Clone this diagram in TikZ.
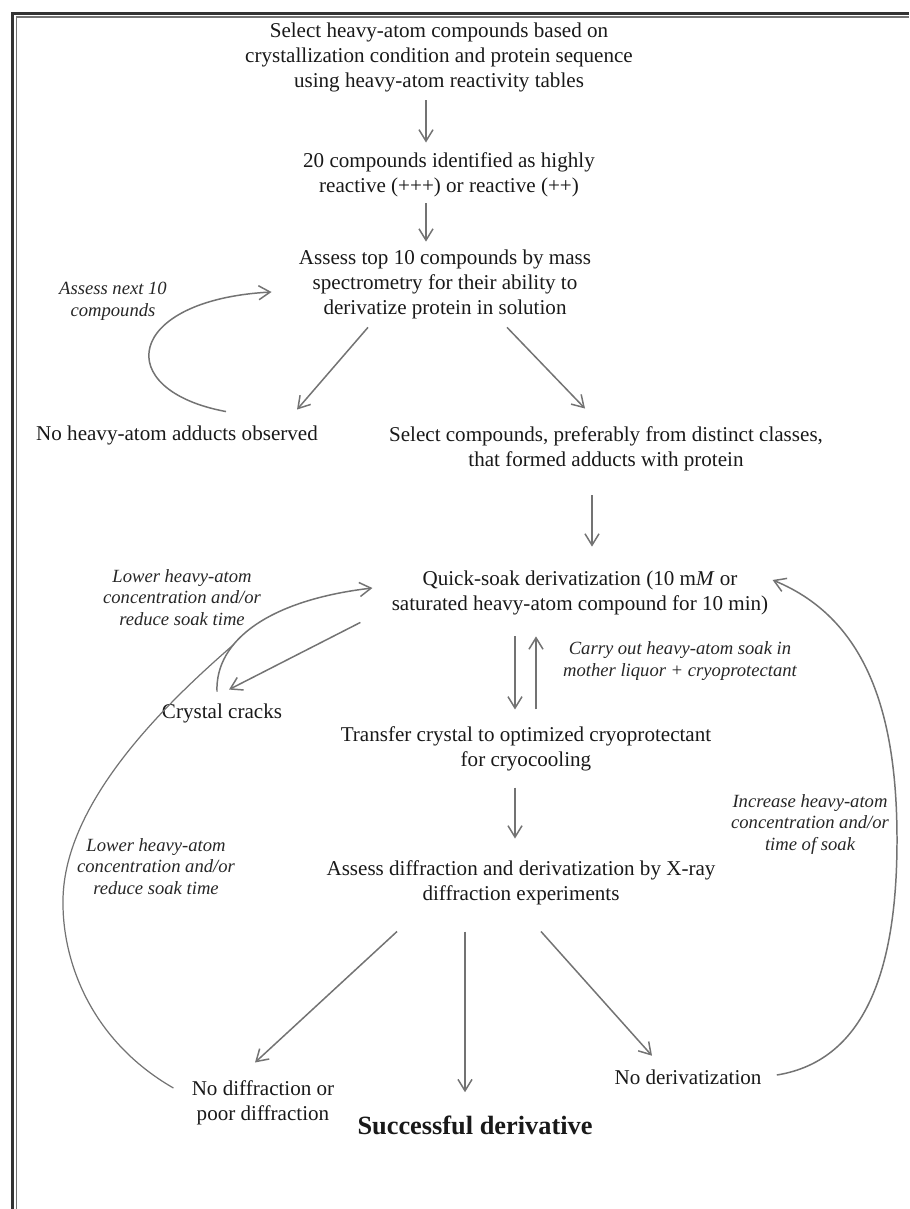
\documentclass[tikz,border=0pt]{standalone}
\usepackage{fontspec}
\setmainfont{Liberation Serif}
\usetikzlibrary{arrows.meta}

\tikzset{
    stage/.style={align=center, inner sep=0pt, text=black!90, font=\fontsize{12}{14.2}\selectfont},
    hint/.style={align=center, inner sep=0pt, text=black!85, font=\fontsize{10.6}{12.3}\selectfont\itshape},
    flow/.style={draw=black!55, line width=0.85pt, -{Straight Barb[length=6.5pt, width=8pt]}},
    sweep/.style={draw=black!55, line width=0.7pt}
}

\begin{document}
\begin{tikzpicture}[x=0.02cm, y=-0.02cm]
                \useasboundingbox (0,0) rectangle (909,1209);
                \draw[line width=1.7pt, black!80] (12.5,1209) -- (12.5,13.5) -- (909,13.5);
                \draw[line width=0.7pt, black!55] (16.5,1209) -- (16.5,17) -- (909,17);

                \node[stage] (heavy) at (439,57.5) {Select heavy-atom compounds based on\\crystallization condition and protein sequence\\using heavy-atom reactivity tables};
                \node[stage] (twenty) at (449,174.5) {20 compounds identified as highly\\reactive (+++) or reactive (++)};
                \node[stage] (topten) at (445,284) {Assess top 10 compounds by mass\\spectrometry for their ability to\\derivatize protein in solution};
                \node[stage] (noadd) at (177,435) {No heavy-atom adducts observed};
                \node[stage] (pick) at (606,449) {Select compounds, preferably from distinct classes,\\that formed adducts with protein};
                \node[stage] (quick) at (580,593) {Quick-soak derivatization (10 m\textit{M} or\\saturated heavy-atom compound for 10 min)};
                \node[stage] (cracks) at (222,713) {Crystal cracks};
                \node[stage] (transfer) at (526,748.5) {Transfer crystal to optimized cryoprotectant\\for cryocooling};
                \node[stage] (xray) at (521,882.5) {Assess diffraction and derivatization by X-ray\\diffraction experiments};
                \node[stage] (nodiff) at (263,1102.5) {No diffraction or\\poor diffraction};
                \node[stage, font=\fontsize{15}{18}\selectfont\bfseries] (success) at (475,1125) {Successful derivative};
                \node[stage] (noderiv) at (688,1077) {No derivatization};

                \node[hint] (nextten) at (113,301) {Assess next 10\\compounds};
                \node[hint] (lowerA) at (182,597.5) {Lower heavy-atom\\concentration and/or\\reduce soak time};
                \node[hint] (carry) at (680,661) {Carry out heavy-atom soak in\\mother liquor + cryoprotectant};
                \node[hint] (raise) at (810,824.5) {Increase heavy-atom\\concentration and/or\\time of soak};
                \node[hint] (lowerB) at (156,866.5) {Lower heavy-atom\\concentration and/or\\reduce soak time};

                \draw[flow] ([shift={(-13,8)}]heavy.south) -- ([shift={(-23,-9.5)}]twenty.north);
                \draw[flow] ([shift={(-23,6.5)}]twenty.south) -- ([shift={(-19,-7.5)}]topten.north);
                \draw[flow] ([shift={(-77,8.5)}]topten.south) -- ([shift={(120,-15.5)}]noadd.north);
                \draw[flow] ([shift={(62,8.5)}]topten.south) -- ([shift={(-21,-18)}]pick.north);
                \draw[flow] ([shift={(-14,24)}]pick.south) -- ([shift={(12,-24)}]quick.north);
                \draw[flow] ([shift={(-31,7)}]quick.south west) -- ([shift={(7,-13.5)}]cracks.north);
                \draw[flow] ([shift={(-65,21)}]quick.south) -- ([shift={(-11,-16.5)}]transfer.north);
                \draw[flow] ([shift={(10,-16.5)}]transfer.north) -- ([shift={(-44,21)}]quick.south);
                \draw[flow] ([shift={(-11,16.5)}]transfer.south) -- ([shift={(-6,-21.5)}]xray.north);
                \draw[flow] ([shift={(-124,26.5)}]xray.south) -- ([shift={(-8,-17.5)}]nodiff.north);
                \draw[flow] ([shift={(-56,26.5)}]xray.south) -- ([shift={(-10,-23)}]success.north);
                \draw[flow] ([shift={(20,26.5)}]xray.south) -- ([shift={(-36,-13.5)}]noderiv.north);

                \draw[flow] ([shift={(49,-13.5)}]noadd.north) .. controls (110,390) and (125,300) .. ([shift={(-27,8)}]topten.west);
                \draw[flow] ([shift={(-5,-11.5)}]cracks.north) .. controls (215,640) and (270,600) .. ([shift={(-19,-5)}]quick.west) coordinate[pos=0.33] (join);
                \draw[sweep] ([shift={(-18,-14.5)}]nodiff.west) .. controls (90,1040) and (62,960) .. (63,900) .. controls (64,800) and (170,700) .. (join);
                \draw[flow] ([shift={(15,-2)}]noderiv.east) .. controls (870,1060) and (897,960) .. (897,840) .. controls (897,720) and (870,620) .. ([shift={(4,-13)}]quick.east);
\end{tikzpicture}
\end{document}
